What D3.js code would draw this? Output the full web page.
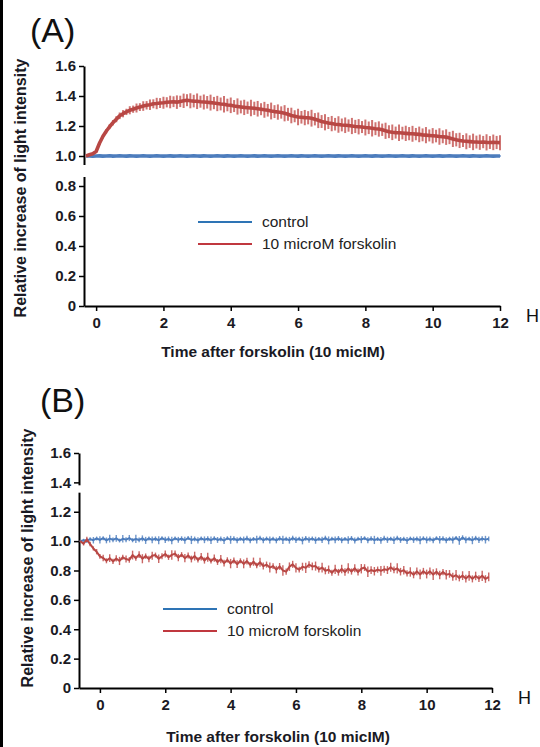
<!DOCTYPE html>
<html>
<head>
<meta charset="utf-8">
<script src="https://cdn.jsdelivr.net/npm/d3@7"></script>
<style>
  body { margin: 0; background: #fff; }
  svg { display: block; }
  text { font-family: "Liberation Sans", Arial, sans-serif; }
</style>
</head>
<body>
<svg id="chart" width="540" height="747"></svg>
<script>
// sampling grid of the recordings (hours)
const stepH = 0.1;
const startA = -0.3;
const startB = -0.6;

const yTicks = [0, 0.2, 0.4, 0.6, 0.8, 1.0, 1.2, 1.4, 1.6];
const xTicks = [0, 2, 4, 6, 8, 10, 12];
const legendLabels = [" control", "10 microM forskolin"];

// panel A, -0.3 .. 12.0 h
const controlA = [
  1.000, 1.001, 0.999, 1.000, 1.001, 0.999, 1.000, 1.002, 0.999, 1.000,
  1.001, 1.000, 0.999, 1.001, 1.000, 0.999, 1.000, 1.001, 1.000, 0.999,
  1.000, 1.002, 1.000, 0.999, 1.000, 1.001, 0.999, 1.000, 1.001, 1.000,
  0.999, 1.000, 1.001, 1.000, 0.999, 1.001, 1.000, 0.999, 1.000, 1.002,
  1.000, 0.999, 1.001, 1.000, 0.999, 1.000, 1.001, 1.000, 0.999, 1.000,
  1.001, 0.999, 1.000, 1.001, 1.000, 0.999, 1.000, 1.002, 1.000, 0.999,
  1.000, 1.001, 1.000, 0.999, 1.001, 1.000, 0.999, 1.000, 1.001, 1.000,
  0.999, 1.000, 1.002, 1.000, 0.999, 1.001, 1.000, 0.999, 1.000, 1.001,
  1.000, 0.999, 1.000, 1.001, 1.000, 0.999, 1.001, 1.000, 0.999, 1.000,
  1.001, 1.000, 0.999, 1.000, 1.002, 1.000, 0.999, 1.001, 1.000, 0.999,
  1.000, 1.001, 1.000, 0.999, 1.000, 1.001, 0.999, 1.000, 1.002, 1.000,
  0.999, 1.000, 1.001, 1.000, 0.999, 1.001, 1.000, 0.999, 1.000, 1.001,
  1.000, 0.999, 1.000, 1.000
];
const controlSemA = [
  0.002, 0.004, 0.006, 0.003, 0.007, 0.004, 0.006, 0.003, 0.007, 0.004,
  0.006, 0.003, 0.007, 0.005, 0.004, 0.007, 0.003, 0.006, 0.004, 0.007,
  0.003, 0.006, 0.004, 0.007, 0.005, 0.003, 0.006, 0.004, 0.007, 0.003,
  0.006, 0.004, 0.007, 0.005, 0.003, 0.006, 0.004, 0.007, 0.003, 0.006,
  0.004, 0.007, 0.005, 0.003, 0.006, 0.004, 0.007, 0.003, 0.006, 0.004,
  0.007, 0.005, 0.003, 0.006, 0.004, 0.007, 0.003, 0.006, 0.004, 0.007,
  0.005, 0.003, 0.006, 0.004, 0.007, 0.003, 0.008, 0.004, 0.007, 0.005,
  0.003, 0.006, 0.004, 0.008, 0.003, 0.006, 0.004, 0.007, 0.005, 0.003,
  0.006, 0.004, 0.007, 0.003, 0.006, 0.004, 0.007, 0.005, 0.003, 0.006,
  0.004, 0.007, 0.003, 0.006, 0.004, 0.007, 0.005, 0.003, 0.006, 0.004,
  0.007, 0.003, 0.006, 0.004, 0.007, 0.005, 0.003, 0.006, 0.004, 0.007,
  0.003, 0.006, 0.004, 0.007, 0.005, 0.003, 0.006, 0.004, 0.007, 0.003,
  0.006, 0.004, 0.007, 0.005
];
const forskolinA = [
  1.000, 1.008, 1.015, 1.030, 1.085, 1.130, 1.165, 1.195, 1.222, 1.245,
  1.268, 1.282, 1.294, 1.305, 1.312, 1.320, 1.326, 1.333, 1.338, 1.342,
  1.348, 1.350, 1.353, 1.355, 1.358, 1.360, 1.362, 1.359, 1.364, 1.368,
  1.372, 1.368, 1.366, 1.365, 1.362, 1.360, 1.358, 1.356, 1.353, 1.350,
  1.347, 1.345, 1.340, 1.338, 1.333, 1.330, 1.327, 1.324, 1.322, 1.320,
  1.318, 1.315, 1.312, 1.308, 1.305, 1.300, 1.296, 1.293, 1.290, 1.285,
  1.278, 1.270, 1.265, 1.260, 1.258, 1.256, 1.255, 1.252, 1.245, 1.238,
  1.230, 1.225, 1.220, 1.216, 1.212, 1.210, 1.207, 1.205, 1.203, 1.200,
  1.197, 1.195, 1.193, 1.190, 1.188, 1.185, 1.182, 1.180, 1.175, 1.168,
  1.162, 1.158, 1.156, 1.155, 1.153, 1.151, 1.149, 1.148, 1.146, 1.144,
  1.141, 1.139, 1.137, 1.135, 1.133, 1.130, 1.128, 1.126, 1.120, 1.114,
  1.108, 1.104, 1.100, 1.098, 1.096, 1.094, 1.093, 1.092, 1.093, 1.091,
  1.090, 1.091, 1.090, 1.089
];
const forskolinSemA = [
  0.003, 0.005, 0.006, 0.008, 0.010, 0.012, 0.014, 0.016, 0.018, 0.020,
  0.022, 0.024, 0.021, 0.027, 0.024, 0.030, 0.026, 0.032, 0.028, 0.035,
  0.030, 0.038, 0.033, 0.040, 0.034, 0.042, 0.036, 0.045, 0.038, 0.048,
  0.040, 0.050, 0.042, 0.052, 0.040, 0.050, 0.042, 0.053, 0.041, 0.051,
  0.043, 0.055, 0.042, 0.052, 0.040, 0.054, 0.043, 0.051, 0.041, 0.055,
  0.044, 0.052, 0.040, 0.053, 0.042, 0.056, 0.043, 0.051, 0.041, 0.054,
  0.043, 0.052, 0.040, 0.055, 0.042, 0.051, 0.044, 0.056, 0.041, 0.052,
  0.043, 0.054, 0.040, 0.051, 0.042, 0.055, 0.043, 0.052, 0.041, 0.054,
  0.044, 0.051, 0.040, 0.053, 0.042, 0.055, 0.043, 0.051, 0.041, 0.054,
  0.043, 0.052, 0.040, 0.055, 0.042, 0.051, 0.044, 0.053, 0.041, 0.052,
  0.043, 0.054, 0.040, 0.051, 0.042, 0.055, 0.043, 0.052, 0.041, 0.054,
  0.044, 0.051, 0.040, 0.053, 0.042, 0.055, 0.043, 0.051, 0.041, 0.054,
  0.043, 0.052, 0.044, 0.050
];

// panel B, -0.6 .. 11.9 h
const controlB = [
  1.000, 1.006, 1.004, 1.014, 1.006, 1.018, 1.008, 1.020, 1.005, 1.017,
  1.009, 1.019, 1.004, 1.016, 1.010, 1.021, 1.006, 1.015, 1.008, 1.019,
  1.005, 1.018, 1.009, 1.016, 1.006, 1.020, 1.008, 1.015, 1.004, 1.019,
  1.009, 1.017, 1.006, 1.021, 1.008, 1.015, 1.005, 1.018, 1.009, 1.016,
  1.006, 1.019, 1.008, 1.015, 1.004, 1.020, 1.009, 1.017, 1.006, 1.016,
  1.008, 1.019, 1.005, 1.015, 1.010, 1.021, 1.006, 1.017, 1.008, 1.016,
  1.005, 1.019, 1.009, 1.015, 1.006, 1.020, 1.008, 1.016, 1.004, 1.019,
  1.009, 1.017, 1.006, 1.015, 1.008, 1.021, 1.005, 1.016, 1.009, 1.018,
  1.006, 1.015, 1.008, 1.019, 1.004, 1.016, 1.010, 1.020, 1.006, 1.017,
  1.008, 1.015, 1.005, 1.019, 1.009, 1.016, 1.006, 1.021, 1.008, 1.015,
  1.004, 1.018, 1.009, 1.016, 1.006, 1.019, 1.008, 1.015, 1.005, 1.020,
  1.009, 1.017, 1.006, 1.016, 1.008, 1.022, 1.005, 1.024, 1.009, 1.016,
  1.006, 1.020, 1.008, 1.017, 1.010, 1.016
];
const controlSemB = [
  0.004, 0.010, 0.016, 0.012, 0.022, 0.013, 0.025, 0.014, 0.020, 0.027,
  0.016, 0.023, 0.013, 0.026, 0.017, 0.021, 0.014, 0.028, 0.016, 0.020,
  0.024, 0.013, 0.023, 0.016, 0.027, 0.014, 0.021, 0.017, 0.026, 0.013,
  0.020, 0.016, 0.024, 0.014, 0.028, 0.016, 0.021, 0.013, 0.023, 0.017,
  0.026, 0.014, 0.020, 0.016, 0.024, 0.013, 0.027, 0.016, 0.021, 0.014,
  0.023, 0.017, 0.020, 0.013, 0.026, 0.016, 0.021, 0.014, 0.024, 0.013,
  0.020, 0.016, 0.028, 0.014, 0.023, 0.017, 0.021, 0.013, 0.026, 0.016,
  0.020, 0.014, 0.024, 0.013, 0.021, 0.016, 0.027, 0.014, 0.023, 0.017,
  0.020, 0.013, 0.026, 0.016, 0.021, 0.014, 0.024, 0.013, 0.020, 0.016,
  0.028, 0.014, 0.023, 0.017, 0.021, 0.013, 0.026, 0.016, 0.020, 0.014,
  0.024, 0.013, 0.021, 0.016, 0.027, 0.014, 0.023, 0.017, 0.020, 0.013,
  0.026, 0.016, 0.021, 0.014, 0.024, 0.013, 0.030, 0.016, 0.023, 0.014,
  0.027, 0.016, 0.021, 0.017, 0.026, 0.016
];
const forskolinB = [
  1.000, 0.982, 1.012, 0.980, 0.950, 0.928, 0.896, 0.885, 0.866, 0.884,
  0.862, 0.882, 0.865, 0.890, 0.878, 0.872, 0.905, 0.884, 0.908, 0.880,
  0.898, 0.879, 0.900, 0.905, 0.880, 0.897, 0.912, 0.890, 0.906, 0.915,
  0.888, 0.908, 0.884, 0.902, 0.878, 0.898, 0.872, 0.894, 0.868, 0.890,
  0.864, 0.884, 0.858, 0.877, 0.850, 0.872, 0.847, 0.868, 0.843, 0.866,
  0.845, 0.864, 0.838, 0.860, 0.834, 0.856, 0.830, 0.840, 0.820, 0.830,
  0.806, 0.828, 0.800, 0.792, 0.826, 0.842, 0.818, 0.806, 0.826, 0.818,
  0.840, 0.828, 0.830, 0.808, 0.820, 0.798, 0.806, 0.785, 0.808, 0.788,
  0.810, 0.790, 0.814, 0.793, 0.815, 0.790, 0.812, 0.820, 0.792, 0.803,
  0.795, 0.806, 0.798, 0.808, 0.803, 0.822, 0.804, 0.814, 0.792, 0.802,
  0.780, 0.790, 0.771, 0.794, 0.773, 0.795, 0.776, 0.794, 0.772, 0.791,
  0.769, 0.789, 0.771, 0.777, 0.757, 0.768, 0.749, 0.765, 0.745, 0.764,
  0.743, 0.763, 0.745, 0.764, 0.742, 0.756
];
const forskolinSemB = [
  0.004, 0.012, 0.018, 0.015, 0.014, 0.018, 0.016, 0.022, 0.017, 0.026,
  0.018, 0.021, 0.028, 0.017, 0.024, 0.019, 0.030, 0.017, 0.023, 0.031,
  0.018, 0.022, 0.027, 0.017, 0.029, 0.020, 0.024, 0.018, 0.032, 0.021,
  0.025, 0.017, 0.028, 0.020, 0.023, 0.030, 0.018, 0.026, 0.021, 0.031,
  0.017, 0.025, 0.020, 0.028, 0.023, 0.018, 0.032, 0.021, 0.026, 0.017,
  0.030, 0.023, 0.020, 0.028, 0.018, 0.031, 0.024, 0.021, 0.034, 0.020,
  0.026, 0.023, 0.036, 0.021, 0.029, 0.024, 0.032, 0.020, 0.027, 0.035,
  0.023, 0.026, 0.031, 0.021, 0.033, 0.024, 0.028, 0.020, 0.032, 0.023,
  0.029, 0.026, 0.035, 0.021, 0.027, 0.024, 0.032, 0.023, 0.036, 0.026,
  0.029, 0.021, 0.033, 0.024, 0.027, 0.030, 0.023, 0.035, 0.026, 0.029,
  0.021, 0.032, 0.024, 0.027, 0.033, 0.023, 0.030, 0.026, 0.036, 0.024,
  0.029, 0.021, 0.032, 0.026, 0.027, 0.035, 0.023, 0.030, 0.026, 0.033,
  0.024, 0.029, 0.023, 0.035, 0.026, 0.030
];

const svg = d3.select("#chart");
svg.append("rect").attr("width", 540).attr("height", 747).attr("fill", "#fff");
svg.append("rect").attr("width", 3).attr("height", 747).attr("fill", "#000");

function toPoints(values, sems, start) {
  return values.map((v, i) => ({t: start + i * stepH, v: v, e: sems[i]}));
}

function drawPanel(cfg) {
  let x = d3.scaleLinear().domain(cfg.xDomain).range(cfg.xRange);
  let y = d3.scaleLinear().domain([0, 1.6]).range(cfg.yRange);
  let g = svg.append("g");

  g.append("text")
    .attr("x", cfg.titleX).attr("y", cfg.titleY)
    .attr("font-size", 34).attr("fill", "#111")
    .text(cfg.title);

  let yAxis = g.append("g")
    .attr("transform", `translate(${cfg.xRange[0]},0)`)
    .call(d3.axisLeft(y).tickValues(yTicks).tickSize(5).tickSizeOuter(0).tickPadding(3)
      .tickFormat(d => d === 0 ? "0" : d3.format(".1f")(d)));
  let xAxis = g.append("g")
    .attr("transform", `translate(0,${cfg.yRange[0]})`)
    .call(d3.axisBottom(x).tickValues(xTicks).tickSize(5).tickSizeOuter(0).tickPadding(6));

  for (let ax of [yAxis, xAxis]) {
    ax.select(".domain").attr("stroke", "#000").attr("stroke-width", 2);
    ax.selectAll(".tick line").attr("stroke", "#000").attr("stroke-width", 1.5);
    ax.selectAll(".tick text")
      .attr("font-family", "'Liberation Sans', Arial, sans-serif")
      .attr("font-size", 15).attr("font-weight", "bold").attr("fill", "#1a1a24");
  }
  // small break in the y axis line
  g.append("rect")
    .attr("x", cfg.xRange[0] - 2).attr("y", y(cfg.gap[1]))
    .attr("width", 4).attr("height", y(cfg.gap[0]) - y(cfg.gap[1]))
    .attr("fill", "#fff");

  g.append("text")
    .attr("x", cfg.xRange[1] + 26).attr("y", cfg.yRange[0] + 16)
    .attr("font-size", 18).attr("fill", "#111").text("H");

  g.append("text")
    .attr("text-anchor", "middle")
    .attr("x", cfg.xLabelX).attr("y", cfg.xLabelY)
    .attr("font-size", 15.5).attr("font-weight", "bold").attr("fill", "#1a1a24")
    .text("Time after forskolin (10 micIM)");

  g.append("text")
    .attr("text-anchor", "middle")
    .attr("transform", `translate(${cfg.yLabelX},${cfg.yLabelY}) rotate(-90)`)
    .attr("font-size", 16).attr("font-weight", "bold").attr("fill", "#1a1a24")
    .text("Relative increase of light intensity");

  let line = d3.line().x(d => x(d.t)).y(d => y(d.v));
  for (let s of cfg.series) {
    g.append("g").selectAll("line").data(s.points).enter().append("line")
      .attr("x1", d => x(d.t)).attr("x2", d => x(d.t))
      .attr("y1", d => y(d.v - d.e)).attr("y2", d => y(d.v + d.e))
      .attr("stroke", s.barColor).attr("stroke-width", cfg.barWidth);
    g.append("path").datum(s.points)
      .attr("d", line).attr("fill", "none")
      .attr("stroke", s.color).attr("stroke-width", cfg.lineWidth)
      .attr("stroke-linejoin", "round");
  }

  let legendColors = ["#2e74b5", "#c0383f"];
  legendLabels.forEach((lab, i) => {
    let ly = cfg.legendY + i * 22;
    g.append("line")
      .attr("x1", cfg.legendX).attr("x2", cfg.legendX + 54)
      .attr("y1", ly).attr("y2", ly)
      .attr("stroke", legendColors[i]).attr("stroke-width", 2);
    g.append("text")
      .attr("x", cfg.legendX + 64).attr("y", ly + 5)
      .attr("font-size", 15.5).attr("fill", "#222")
      .text(lab);
  });
}

drawPanel({
  title: "(A)", titleX: 30, titleY: 42,
  xDomain: [-0.36, 12], xRange: [84, 500], yRange: [306, 66],
  gap: [0.86, 0.94],
  xLabelX: 273, xLabelY: 357, yLabelX: 26, yLabelY: 188,
  legendX: 198, legendY: 222,
  lineWidth: 3.6, barWidth: 2,
  series: [
    {points: toPoints(controlA, controlSemA, startA), color: "#4d7dbd", barColor: "#7b9fd0"},
    {points: toPoints(forskolinA, forskolinSemA, startA), color: "#b84744", barColor: "#cf7371"}
  ]
});

drawPanel({
  title: "(B)", titleX: 40, titleY: 412,
  xDomain: [-0.64, 12], xRange: [79, 492], yRange: [688, 453],
  gap: [1.33, 1.38],
  xLabelX: 278, xLabelY: 742, yLabelX: 33, yLabelY: 558,
  legendX: 163, legendY: 609,
  lineWidth: 2, barWidth: 1.4,
  series: [
    {points: toPoints(controlB, controlSemB, startB), color: "#4d7dbd", barColor: "#6f96cb"},
    {points: toPoints(forskolinB, forskolinSemB, startB), color: "#b84744", barColor: "#c96664"}
  ]
});
</script>
</body>
</html>
